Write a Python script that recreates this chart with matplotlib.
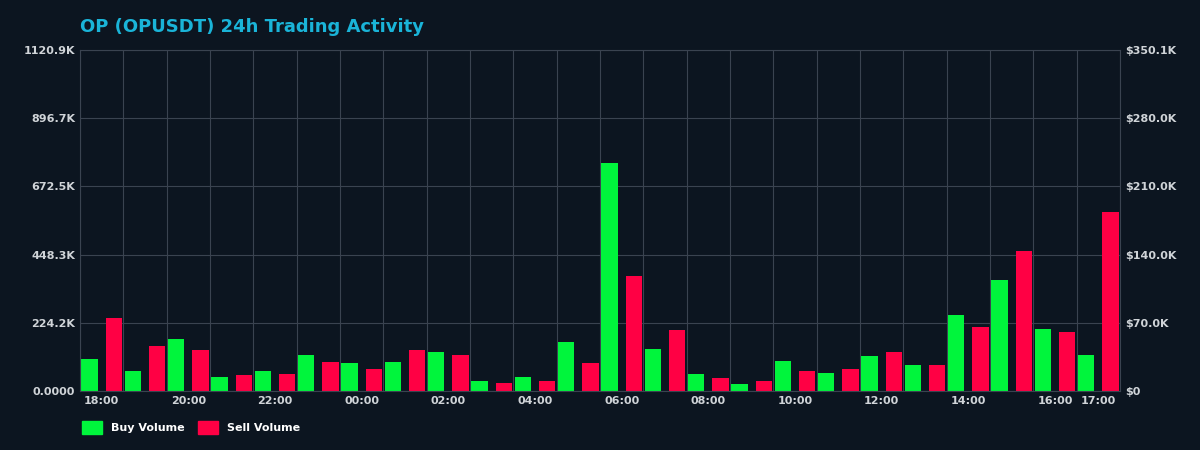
import matplotlib

matplotlib.use("Agg")

import matplotlib.pyplot as plt
from matplotlib.patches import Patch

hours = ["18:00", "19:00", "20:00", "21:00", "22:00", "23:00", "00:00", "01:00",
         "02:00", "03:00", "04:00", "05:00", "06:00", "07:00", "08:00", "09:00",
         "10:00", "11:00", "12:00", "13:00", "14:00", "15:00", "16:00", "17:00"]
buy_volume = [105, 65, 170, 45, 65, 118, 92, 95, 128, 32, 45, 160,
              750, 138, 55, 22, 98, 58, 115, 85, 250, 365, 205, 118]
sell_volume = [240, 148, 135, 52, 55, 95, 72, 135, 118, 28, 32, 92,
               378, 202, 42, 32, 65, 72, 128, 85, 210, 460, 195, 590]
left_ticks = ["0.0000", "224.2K", "448.3K", "672.5K", "896.7K", "1120.9K"]
right_ticks = ["$0", "$70.0K", "$140.0K", "$210.0K", "$280.0K", "$350.1K"]
shown_ticks = ["18:00", "20:00", "22:00", "00:00", "02:00", "04:00", "06:00",
               "08:00", "10:00", "12:00", "14:00", "16:00", "17:00"]

bg = "#0c1520"
green = "#00f53c"
red = "#ff0044"
text_col = "#d0d4d8"
grid_col = "#3a4350"

fig = plt.figure(figsize=(12, 4.5), dpi=100, facecolor=bg)
ax = fig.add_axes([0.0667, 0.131, 0.8666, 0.758], facecolor=bg)

x = list(range(len(hours)))
ax.bar([i - 0.28 for i in x], buy_volume, width=0.38, color=green)
ax.bar([i + 0.28 for i in x], sell_volume, width=0.38, color=red)

ymax = 1120.9
ax.set_xlim(-0.5, len(hours) - 0.5)
ax.set_ylim(0, ymax)
yt = [ymax * k / 5 for k in range(6)]
ax.set_yticks(yt)
ax.set_yticklabels(left_ticks)
ax.set_xticks([hours.index(h) for h in shown_ticks])
ax.set_xticklabels(shown_ticks)
ax.set_xticks([i - 0.5 for i in range(len(hours) + 1)], minor=True)
ax.grid(True, which="minor", axis="x", color=grid_col, linewidth=0.8)
ax.grid(True, which="major", axis="y", color=grid_col, linewidth=0.8)
ax.set_axisbelow(True)
ax.tick_params(which="both", length=0, colors=text_col, labelsize=8)
for lbl in ax.get_xticklabels() + ax.get_yticklabels():
    lbl.set_fontweight("bold")
for s in ax.spines.values():
    s.set_color(grid_col)

ax2 = ax.twinx()
ax2.set_ylim(0, ymax)
ax2.set_yticks(yt)
ax2.set_yticklabels(right_ticks)
ax2.tick_params(length=0, colors=text_col, labelsize=8)
for lbl in ax2.get_yticklabels():
    lbl.set_fontweight("bold")
for s in ax2.spines.values():
    s.set_visible(False)

fig.text(0.0667, 0.94, "OP (OPUSDT) 24h Trading Activity", color="#1ab4d8",
         fontsize=13, fontweight="bold", va="center")

handles = [Patch(color=green, label="Buy Volume"), Patch(color=red, label="Sell Volume")]
leg = fig.legend(handles=handles, loc="center left", bbox_to_anchor=(0.06, 0.05),
                 ncol=2, frameon=False, fontsize=8, handlelength=1.8, handleheight=1.3,
                 columnspacing=1.2)
for t in leg.get_texts():
    t.set_color("white")
    t.set_fontweight("bold")

plt.savefig("out.png", facecolor=bg)
